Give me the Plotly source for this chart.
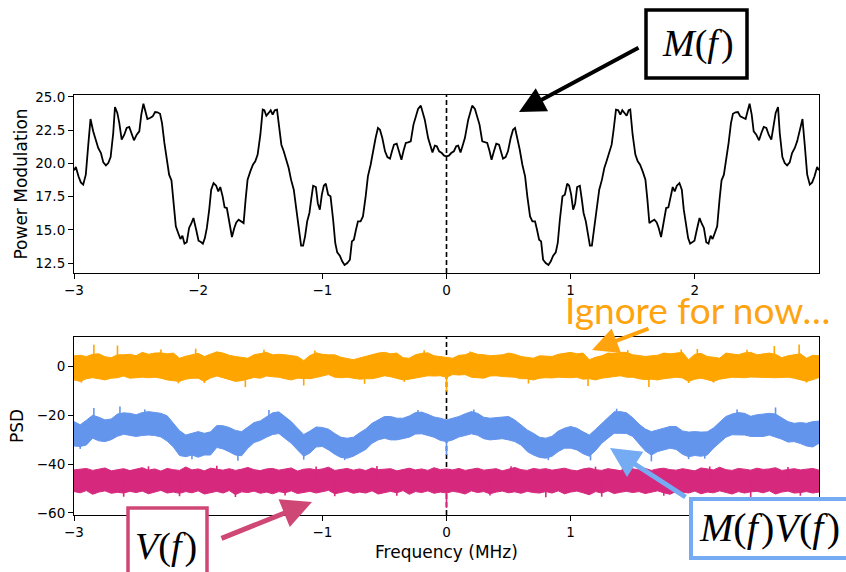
import plotly.graph_objects as go

# ---------------- top panel: power modulation M(f) ----------------
freq_top_neg = [
    -3.000, -2.985, -2.964, -2.945, -2.926, -2.905, -2.886, -2.867, -2.845, -2.824,
    -2.805, -2.783, -2.764, -2.743, -2.724, -2.705, -2.684, -2.670, -2.651, -2.635,
    -2.616, -2.595, -2.576, -2.555, -2.536, -2.517, -2.495, -2.474, -2.458, -2.441,
    -2.425, -2.409, -2.388, -2.366, -2.347, -2.328, -2.307, -2.291, -2.272, -2.253,
    -2.234, -2.215, -2.199, -2.180, -2.161, -2.143, -2.127, -2.110, -2.092, -2.073,
    -2.056, -2.038, -2.016, -1.997, -1.978, -1.962, -1.946, -1.930, -1.911, -1.895,
    -1.876, -1.855, -1.838, -1.822, -1.803, -1.787, -1.769, -1.747, -1.728, -1.709,
    -1.693, -1.674, -1.653, -1.634, -1.618, -1.602, -1.580, -1.559, -1.540, -1.521,
    -1.499, -1.480, -1.467, -1.451, -1.432, -1.416, -1.400, -1.383, -1.365, -1.346,
    -1.330, -1.311, -1.289, -1.271, -1.252, -1.230, -1.209, -1.187, -1.171, -1.155,
    -1.139, -1.122, -1.104, -1.090, -1.074, -1.052, -1.036, -1.020, -1.004, -0.988,
    -0.972, -0.953, -0.934, -0.913, -0.896, -0.880, -0.859, -0.840, -0.821, -0.799,
    -0.778, -0.762, -0.746, -0.729, -0.713, -0.692, -0.673, -0.651, -0.633, -0.611,
    -0.590, -0.571, -0.552, -0.536, -0.517, -0.495, -0.476, -0.455, -0.439, -0.423,
    -0.401, -0.382, -0.363, -0.347, -0.328, -0.310, -0.288, -0.266, -0.248, -0.229,
    -0.207, -0.175, -0.148, -0.132, -0.113, -0.094, -0.078, -0.059, -0.038, -0.019]
power_mod_neg = [
    19.48, 19.73, 19.03, 18.57, 18.40, 19.15, 21.29, 23.34, 22.41, 21.66,
    21.16, 20.78, 20.08, 19.85, 20.03, 20.48, 22.29, 24.25, 23.80, 23.04,
    21.79, 22.16, 22.67, 22.74, 22.29, 21.74, 22.16, 22.41, 23.67, 24.50,
    23.92, 23.34, 23.42, 23.54, 23.87, 23.85, 23.74, 23.04, 21.54, 20.28,
    19.15, 18.72, 17.27, 15.26, 14.76, 14.31, 14.56, 13.96, 14.06, 15.14,
    15.46, 15.89, 15.01, 14.18, 14.08, 13.96, 14.38, 15.14, 16.52, 18.02,
    18.52, 18.32, 17.90, 18.22, 17.52, 16.69, 16.64, 15.51, 14.46, 15.14,
    15.56, 15.76, 15.64, 15.51, 17.27, 18.78, 19.40, 19.90, 20.16, 20.66,
    22.16, 24.05, 24.00, 23.59, 23.80, 24.00, 23.67, 24.00, 24.05, 22.54,
    21.41, 20.91, 20.16, 19.65, 18.78, 18.02, 16.52, 15.01, 13.81, 13.81,
    14.51, 15.64, 16.27, 17.27, 18.32, 18.22, 16.97, 16.52, 17.65, 18.32,
    18.47, 17.65, 17.52, 15.76, 14.01, 13.30, 13.05, 12.63, 12.35, 12.50,
    12.75, 14.13, 14.26, 15.01, 15.64, 15.64, 16.01, 17.52, 19.03, 19.90,
    21.03, 21.91, 22.67, 22.54, 21.91, 20.91, 20.48, 20.36, 20.91, 21.41,
    21.49, 20.91, 20.28, 20.91, 21.54, 21.59, 21.66, 22.92, 23.54, 24.10,
    24.35, 23.29, 21.91, 21.41, 20.83, 21.34, 21.29, 20.91, 20.78, 20.58]
freq_top_pos = [
    0.000, 0.019, 0.038, 0.059, 0.078, 0.094, 0.113, 0.132, 0.148, 0.175,
    0.207, 0.229, 0.248, 0.266, 0.288, 0.310, 0.328, 0.347, 0.363, 0.382,
    0.401, 0.423, 0.439, 0.455, 0.476, 0.495, 0.517, 0.536, 0.552, 0.571,
    0.590, 0.611, 0.633, 0.651, 0.673, 0.692, 0.713, 0.729, 0.746, 0.762,
    0.778, 0.799, 0.821, 0.840, 0.859, 0.880, 0.896, 0.913, 0.934, 0.953,
    0.972, 0.988, 1.004, 1.020, 1.036, 1.052, 1.074, 1.090, 1.104, 1.122,
    1.139, 1.155, 1.171, 1.187, 1.209, 1.230, 1.252, 1.271, 1.289, 1.311,
    1.330, 1.346, 1.365, 1.383, 1.400, 1.416, 1.432, 1.451, 1.467, 1.480,
    1.499, 1.521, 1.540, 1.559, 1.580, 1.602, 1.618, 1.634, 1.653, 1.674,
    1.693, 1.709, 1.728, 1.747, 1.769, 1.787, 1.803, 1.822, 1.838, 1.855,
    1.876, 1.895, 1.911, 1.930, 1.946, 1.962, 1.978, 1.997, 2.016, 2.038,
    2.056, 2.073, 2.092, 2.110, 2.127, 2.143, 2.161, 2.180, 2.199, 2.215,
    2.234, 2.253, 2.272, 2.291, 2.307, 2.328, 2.347, 2.366, 2.388, 2.409,
    2.425, 2.441, 2.458, 2.474, 2.495, 2.517, 2.536, 2.555, 2.576, 2.595,
    2.616, 2.635, 2.651, 2.670, 2.684, 2.705, 2.724, 2.743, 2.764, 2.783,
    2.805, 2.824, 2.845, 2.867, 2.886, 2.905, 2.926, 2.945, 2.964, 2.985,
    3.000]
power_mod_pos = [
    20.53, 20.58, 20.78, 20.91, 21.29, 21.34, 20.83, 21.41, 21.91, 23.29,
    24.35, 24.10, 23.54, 22.92, 21.66, 21.59, 21.54, 20.91, 20.28, 20.91,
    21.49, 21.41, 20.91, 20.36, 20.48, 20.91, 21.91, 22.54, 22.67, 21.91,
    21.03, 19.90, 19.03, 17.52, 16.01, 15.64, 15.64, 15.01, 14.26, 14.13,
    12.75, 12.50, 12.35, 12.63, 13.05, 13.30, 14.01, 15.76, 17.52, 17.65,
    18.47, 18.32, 17.65, 16.52, 16.97, 18.22, 18.32, 17.27, 16.27, 15.64,
    14.51, 13.81, 13.81, 15.01, 16.52, 18.02, 18.78, 19.65, 20.16, 20.91,
    21.41, 22.54, 24.05, 24.00, 23.67, 24.00, 23.80, 23.59, 24.00, 24.05,
    22.16, 20.66, 20.16, 19.90, 19.40, 18.78, 17.27, 15.51, 15.64, 15.76,
    15.56, 15.14, 14.46, 15.51, 16.64, 16.69, 17.52, 18.22, 17.90, 18.32,
    18.52, 18.02, 16.52, 15.14, 14.38, 13.96, 14.08, 14.18, 15.01, 15.89,
    15.46, 15.14, 14.06, 13.96, 14.56, 14.31, 14.76, 15.26, 17.27, 18.72,
    19.15, 20.28, 21.54, 23.04, 23.74, 23.85, 23.87, 23.54, 23.42, 23.34,
    23.92, 24.50, 23.67, 22.41, 22.16, 21.74, 22.29, 22.74, 22.67, 22.16,
    21.79, 23.04, 23.80, 24.25, 22.29, 20.48, 20.03, 19.85, 20.08, 20.78,
    21.16, 21.66, 22.41, 23.34, 21.29, 19.15, 18.40, 18.57, 19.03, 19.73,
    19.48]

# ---------------- bottom panel: PSD bands (upper / lower envelopes) ----------------
band_freq = [round(-3 + 0.05 * i, 2) for i in range(121)]

orange_upper = [
    4.4, 4.6, 4.1, 5.0, 5.2, 4.0, 3.6, 4.8, 4.8, 5.0,
    4.4, 5.8, 5.0, 5.5, 5.6, 5.2, 5.5, 3.4, 4.2, 4.8,
    5.4, 4.1, 5.0, 6.0, 5.5, 4.6, 4.1, 3.8, 3.4, 4.8,
    5.2, 5.8, 4.8, 5.0, 4.8, 4.4, 4.1, 2.4, 4.5, 5.6,
    5.0, 4.8, 4.8, 3.8, 3.4, 2.8, 3.5, 4.1, 5.0, 5.5,
    5.8, 5.2, 5.5, 3.6, 3.4, 4.8, 5.4, 5.6, 4.4, 4.1,
    3.8, 3.4, 4.6, 4.8, 5.8, 5.0, 4.8, 4.4, 4.6, 4.8,
    5.5, 5.0, 4.1, 3.6, 3.4, 4.4, 4.2, 4.1, 5.0, 5.5,
    5.8, 5.2, 5.5, 2.8, 3.8, 4.4, 5.5, 5.4, 5.8, 5.8,
    4.8, 4.5, 4.1, 4.4, 4.6, 5.5, 5.2, 5.5, 5.8, 2.8,
    5.0, 5.4, 4.1, 3.8, 3.4, 5.5, 5.0, 4.8, 5.6, 5.8,
    4.8, 5.0, 5.5, 5.0, 3.6, 4.4, 4.8, 5.2, 3.4, 4.6,
    4.4]
orange_lower = [
    -5.5, -6.1, -5.0, -4.6, -5.0, -5.5, -4.8, -4.6, -3.9, -4.8,
    -4.6, -4.4, -4.6, -4.4, -4.8, -5.5, -5.8, -6.1, -5.2, -4.8,
    -4.8, -6.1, -4.7, -3.9, -4.6, -5.5, -6.1, -5.8, -5.2, -4.5,
    -4.8, -3.9, -4.2, -4.4, -5.0, -5.5, -4.8, -5.0, -5.0, -4.5,
    -3.8, -3.3, -4.4, -4.6, -4.4, -4.8, -5.2, -5.0, -5.0, -4.5,
    -3.8, -4.2, -4.8, -5.5, -5.2, -4.8, -4.2, -3.8, -3.9, -3.8,
    -4.4, -3.3, -3.5, -3.3, -4.4, -4.6, -4.8, -3.9, -3.8, -4.1,
    -4.2, -4.4, -5.0, -5.0, -5.5, -4.8, -4.6, -4.7, -4.4, -4.6,
    -4.6, -4.4, -5.2, -5.0, -5.5, -4.8, -4.4, -3.9, -3.8, -4.4,
    -4.4, -5.0, -5.4, -5.2, -5.5, -5.0, -4.8, -4.4, -4.7, -6.1,
    -5.2, -4.8, -5.4, -6.1, -5.2, -4.8, -4.4, -4.5, -4.6, -4.3,
    -4.4, -4.4, -4.7, -4.6, -4.5, -4.4, -4.8, -5.5, -6.1, -5.4,
    -4.5]

blue_upper = [
    -22.6, -23.9, -22.0, -20.0, -20.8, -21.9, -21.5, -19.5, -19.0, -19.2,
    -19.8, -18.9, -18.5, -18.8, -19.2, -20.2, -23.3, -26.3, -28.1, -27.4,
    -26.7, -27.4, -26.8, -24.2, -24.3, -25.0, -26.2, -26.7, -25.0, -23.0,
    -22.3, -20.7, -19.0, -18.6, -20.6, -22.6, -25.3, -27.9, -26.5, -24.8,
    -25.0, -25.7, -27.5, -29.0, -29.4, -29.0, -27.2, -25.6, -23.3, -21.9,
    -20.5, -20.5, -21.2, -21.2, -20.3, -18.9, -18.7, -19.6, -20.7, -21.2,
    -21.9, -21.2, -20.5, -19.4, -18.5, -19.2, -20.8, -21.2, -21.0, -20.5,
    -20.5, -21.9, -23.9, -26.0, -27.4, -29.0, -29.4, -28.6, -26.5, -25.3,
    -24.6, -25.3, -26.8, -28.1, -25.8, -23.3, -21.2, -18.6, -18.5, -19.0,
    -21.0, -23.6, -25.6, -26.7, -26.0, -25.3, -24.6, -24.6, -26.4, -26.9,
    -26.7, -26.9, -26.8, -25.2, -22.8, -20.5, -19.5, -18.9, -19.2, -20.4,
    -19.8, -19.6, -19.2, -19.5, -21.0, -22.6, -23.3, -23.0, -23.3, -22.6,
    -22.4]
blue_lower = [
    -32.6, -32.8, -32.2, -29.4, -30.5, -30.8, -30.0, -28.6, -27.8, -28.1,
    -28.7, -28.3, -28.1, -28.3, -28.9, -30.6, -33.0, -36.5, -37.0, -36.3,
    -37.2, -36.3, -36.3, -33.2, -33.8, -35.0, -36.3, -36.6, -33.5, -31.2,
    -30.3, -29.0, -27.9, -27.5, -29.5, -31.5, -34.2, -36.8, -35.5, -33.0,
    -32.8, -34.2, -36.0, -37.3, -37.6, -36.8, -35.4, -34.0, -31.5, -30.1,
    -29.4, -30.1, -30.1, -29.6, -29.0, -27.7, -27.6, -28.3, -29.0, -30.3,
    -30.8, -30.1, -28.9, -28.3, -27.6, -28.2, -29.6, -30.1, -30.0, -29.6,
    -30.1, -30.8, -32.2, -34.9, -36.3, -37.3, -37.6, -36.8, -34.9, -33.5,
    -33.5, -34.2, -35.8, -36.8, -34.5, -31.5, -29.4, -27.4, -27.4, -27.5,
    -28.7, -31.8, -34.6, -36.3, -34.9, -34.2, -33.5, -34.0, -36.0, -37.0,
    -36.5, -36.8, -36.3, -33.5, -31.2, -29.0, -28.0, -28.1, -28.1, -28.7,
    -28.7, -28.7, -28.1, -28.9, -29.8, -31.0, -30.8, -31.6, -32.6, -33.0,
    -31.5]

pink_upper = [
    -42.4, -42.0, -41.8, -42.6, -42.2, -41.6, -42.8, -42.3, -41.9, -42.7,
    -42.1, -41.5, -42.5, -42.0, -42.9, -41.8, -42.3, -42.6, -41.2, -42.4,
    -42.0, -42.8, -41.7, -42.2, -42.5, -41.9, -42.6, -42.1, -41.4, -42.3,
    -42.7, -42.0, -41.8, -42.5, -42.2, -41.6, -42.9, -42.1, -41.9, -42.4,
    -42.0, -41.3, -42.6, -42.2, -41.8, -42.5, -42.0, -42.7, -41.6, -42.3,
    -42.1, -41.9, -42.8, -42.2, -41.7, -42.4, -42.0, -42.6, -41.5, -42.3,
    -42.0, -42.4, -41.8, -42.6, -42.1, -41.7, -42.5, -42.2, -41.9, -42.8,
    -42.0, -41.4, -42.3, -42.6, -41.8, -42.2, -41.9, -42.5, -42.1, -41.7,
    -42.4, -42.8, -42.0, -41.6, -42.3, -42.6, -41.9, -42.2, -42.7, -41.5,
    -42.1, -42.4, -41.8, -42.6, -42.0, -41.7, -42.3, -42.5, -41.9, -42.2,
    -42.8, -41.6, -42.0, -42.4, -41.3, -42.3, -42.6, -41.8, -42.1, -42.5,
    -41.7, -42.2, -42.0, -41.5, -42.6, -42.3, -41.9, -42.4, -42.1, -41.8,
    -42.5]
pink_lower = [
    -51.3, -51.8, -50.9, -52.4, -51.5, -51.0, -52.0, -51.6, -51.9, -51.2,
    -51.7, -51.1, -52.2, -51.4, -50.8, -51.9, -51.5, -52.0, -51.3, -51.8,
    -51.0, -52.3, -51.6, -51.2, -51.9, -50.9, -52.5, -51.4, -51.7, -51.1,
    -52.0, -51.5, -52.2, -51.3, -51.8, -51.0, -52.1, -51.6, -51.2, -51.9,
    -51.4, -50.8, -52.2, -51.7, -51.1, -52.0, -51.5, -51.9, -51.0, -52.3,
    -51.6, -51.2, -51.8, -50.9, -52.4, -51.3, -51.7, -51.0, -52.0, -51.5,
    -51.9, -51.2, -51.6, -52.3, -51.0, -51.7, -51.3, -52.2, -51.5, -51.1,
    -51.8, -51.4, -52.0, -51.2, -51.7, -51.9, -51.3, -51.9, -51.0, -52.2,
    -51.5, -51.1, -51.8, -52.6, -51.3, -51.9, -51.0, -52.1, -51.6, -51.2,
    -51.7, -51.3, -52.1, -51.5, -51.0, -51.8, -52.4, -51.2, -51.6, -51.9,
    -51.1, -52.2, -51.5, -51.8, -51.0, -51.6, -52.3, -51.3, -51.9, -51.4,
    -51.2, -51.8, -51.0, -52.3, -51.5, -51.1, -51.9, -51.7, -51.3, -51.9,
    -51.5]

# narrow noise spikes poking out of each band: (frequency, tip value)
orange_spikes = [(-2.84, 8.9), (-2.65, 8.6), (-2.30, 7.0), (-2.02, 7.3), (-1.47, 6.9),
                 (-1.06, 6.6), (-0.18, 6.7), (0.19, 6.2), (1.46, 6.7), (1.89, 7.0),
                 (2.02, 7.2), (2.42, 6.9), (2.64, 8.4), (2.84, 9.0),
                 (-2.94, -6.6), (-2.16, -6.9), (-1.95, -6.8), (-1.62, -8.4), (-1.15, -7.8),
                 (-0.66, -7.1), (-0.34, -6.3), (0.66, -7.0), (1.14, -8.0), (1.63, -8.4),
                 (1.95, -6.8), (2.15, -6.6), (2.90, -6.6), (0.00, -10.3)]
blue_spikes = [(-2.84, -17.0), (-2.63, -16.4), (-2.43, -17.6), (-1.43, -17.8), (-0.23, -17.8),
               (0.22, -17.6), (1.37, -17.3), (2.34, -17.6), (2.65, -16.8),
               (-2.05, -38.0), (-1.68, -38.7), (-1.15, -38.2), (-0.82, -38.4),
               (0.00, -36.3), (0.82, -38.4), (1.16, -38.5), (1.65, -38.9), (1.95, -38.0),
               (2.08, -37.8), (-2.95, -33.8)]
pink_spikes = [(-2.40, -40.9), (-1.85, -40.7), (-1.05, -41.0), (-0.56, -40.8), (0.52, -40.9),
               (1.20, -41.1), (2.12, -41.0), (2.75, -41.2),
               (-2.60, -53.4), (-2.15, -53.2), (-1.70, -53.5), (-1.30, -52.9), (-0.90, -53.2),
               (-0.40, -53.0), (0.00, -58.0), (0.35, -52.9), (0.80, -53.6), (1.25, -53.4),
               (1.75, -53.0), (2.45, -53.5), (2.85, -53.0)]

ORANGE = "#FFA500"
BLUE = "#6495ED"
PINK = "#D6287D"

# ---------------- figure ----------------
W, H = 846, 572
ML, MR, MT, MB = 74, 27, 95, 57
PW, PH = W - ML - MR, H - MT - MB


def px(xp):
    return (xp - ML) / PW


def py(yp):
    return (H - MB - yp) / PH


fig = go.Figure()

fig.add_trace(go.Scatter(x=freq_top_neg + freq_top_pos, y=power_mod_neg + power_mod_pos,
                         mode="lines", line=dict(color="black", width=1.8),
                         xaxis="x", yaxis="y", showlegend=False))

for up, lo, spikes, col in [(orange_upper, orange_lower, orange_spikes, ORANGE),
                            (blue_upper, blue_lower, blue_spikes, BLUE),
                            (pink_upper, pink_lower, pink_spikes, PINK)]:
    fig.add_trace(go.Scatter(x=band_freq, y=lo, mode="lines",
                             line=dict(color=col, width=1), xaxis="x2", yaxis="y2",
                             showlegend=False))
    fig.add_trace(go.Scatter(x=band_freq, y=up, mode="lines", fill="tonexty",
                             fillcolor=col, line=dict(color=col, width=1),
                             xaxis="x2", yaxis="y2", showlegend=False))
    # spikes: vertical strokes from the band middle out to the tip value
    sx, sy = [], []
    for f, tip in spikes:
        i = band_freq.index(min(band_freq, key=lambda b: abs(b - f)))
        mid = (up[i] + lo[i]) / 2
        sx += [f, f, None]
        sy += [mid, tip, None]
    fig.add_trace(go.Scatter(x=sx, y=sy, mode="lines", line=dict(color=col, width=1.6),
                             xaxis="x2", yaxis="y2", showlegend=False, connectgaps=False))

tick_font = dict(family="DejaVu Sans", size=13.5, color="black")
title_font = dict(family="DejaVu Sans", size=17, color="black")
axis_common = dict(showline=True, mirror=True, linecolor="black", linewidth=1.1,
                   ticks="outside", ticklen=5, tickwidth=1.1, tickcolor="black",
                   showgrid=False, zeroline=False, tickfont=tick_font)

fig.update_layout(
    width=W, height=H,
    margin=dict(l=ML, r=MR, t=MT, b=MB),
    paper_bgcolor="white", plot_bgcolor="white",
    xaxis=dict(domain=[0, 1], anchor="y", range=[-3, 3.0],
               tickvals=[-3, -2, -1, 0, 1, 2],
               ticktext=["\u22123", "\u22122", "\u22121", "0", "1", "2"],
               **axis_common),
    yaxis=dict(domain=[py(273), 1], anchor="x", range=[11.75, 25.15],
               tickvals=[12.5, 15.0, 17.5, 20.0, 22.5, 25.0], tickformat=".1f",
               title=dict(text="Power Modulation", font=title_font, standoff=3),
               **axis_common),
    xaxis2=dict(domain=[0, 1], anchor="y2", range=[-3, 3.0],
                tickvals=[-3, -2, -1, 0, 1, 2],
                # the -2 and 2 labels are hidden behind the V(f) and M(f)V(f) boxes
                ticktext=["\u22123", "", "\u22121", "0", "1", ""],
                title=dict(text="Frequency (MHz)", font=title_font, standoff=6),
                **axis_common),
    yaxis2=dict(domain=[0, py(337)], anchor="x2", range=[-60.9, 12.1],
                tickvals=[-60, -40, -20, 0],
                ticktext=["\u221260", "\u221240", "\u221220", "0"],
                title=dict(text="PSD", font=title_font, standoff=8),
                **axis_common),
)

shapes = [
    dict(type="line", xref="x", yref="y domain", x0=0, x1=0, y0=0, y1=1,
         line=dict(color="black", width=1.6, dash="5px,3px"), layer="below"),
    dict(type="line", xref="x2", yref="y2 domain", x0=0, x1=0, y0=0, y1=1,
         line=dict(color="black", width=1.6, dash="5px,3px"), layer="below"),
    # label boxes
    dict(type="rect", xref="paper", yref="paper", x0=px(646), x1=px(747), y0=py(78), y1=py(10),
         line=dict(color="black", width=3.5), fillcolor="white", layer="above"),
    dict(type="rect", xref="paper", yref="paper", x0=px(128), x1=px(207), y0=py(585), y1=py(508),
         line=dict(color="#CF4774", width=3.5), fillcolor="white", layer="above"),
    dict(type="rect", xref="paper", yref="paper", x0=px(691), x1=px(870), y0=py(558), y1=py(499),
         line=dict(color="#74ABF2", width=4), fillcolor="white", layer="above"),
]
fig.update_layout(shapes=shapes)

math_font = dict(family="Liberation Serif", size=38, color="black")
ann = [
    dict(text="<i>M</i>(<i>f</i>\u200a)", x=px(698), y=py(44), xref="paper", yref="paper",
         showarrow=False, font=math_font, xanchor="center", yanchor="middle"),
    dict(text="<i>V</i>(<i>f</i>\u200a)", x=px(166), y=py(546), xref="paper", yref="paper",
         showarrow=False, font=math_font, xanchor="center", yanchor="middle"),
    dict(text="<i>M</i>(<i>f</i>\u200a)<i>V</i>(<i>f</i>\u200a)", x=px(769), y=py(527),
         xref="paper", yref="paper", showarrow=False,
         font=dict(family="Liberation Serif", size=40, color="black"),
         xanchor="center", yanchor="middle"),
    dict(text="Ignore for now\u2026", x=px(697), y=py(309), xref="paper", yref="paper",
         showarrow=False, font=dict(family="Lato", size=37, color="#FFA30F"),
         xanchor="center", yanchor="middle"),
    # arrows: tip at (x, y), tail offset (ax, ay) in pixels
    dict(text="", x=px(519), y=py(112), xref="paper", yref="paper", showarrow=True,
         ax=121, ay=-65, arrowhead=2, arrowsize=1.3, arrowwidth=4, arrowcolor="black"),
    dict(text="", x=px(592), y=py(350), xref="paper", yref="paper", showarrow=True,
         ax=58, ay=-22, arrowhead=2, arrowsize=1.3, arrowwidth=4, arrowcolor="#FFA30F"),
    dict(text="", x=px(312), y=py(502), xref="paper", yref="paper", showarrow=True,
         ax=-92, ay=37, arrowhead=2, arrowsize=1.2, arrowwidth=5, arrowcolor="#CF4774"),
    dict(text="", x=px(610), y=py(448), xref="paper", yref="paper", showarrow=True,
         ax=77, ay=50, arrowhead=2, arrowsize=1.2, arrowwidth=5, arrowcolor="#74ABF2"),
]
fig.update_layout(annotations=ann)

fig.write_html("out.html")
